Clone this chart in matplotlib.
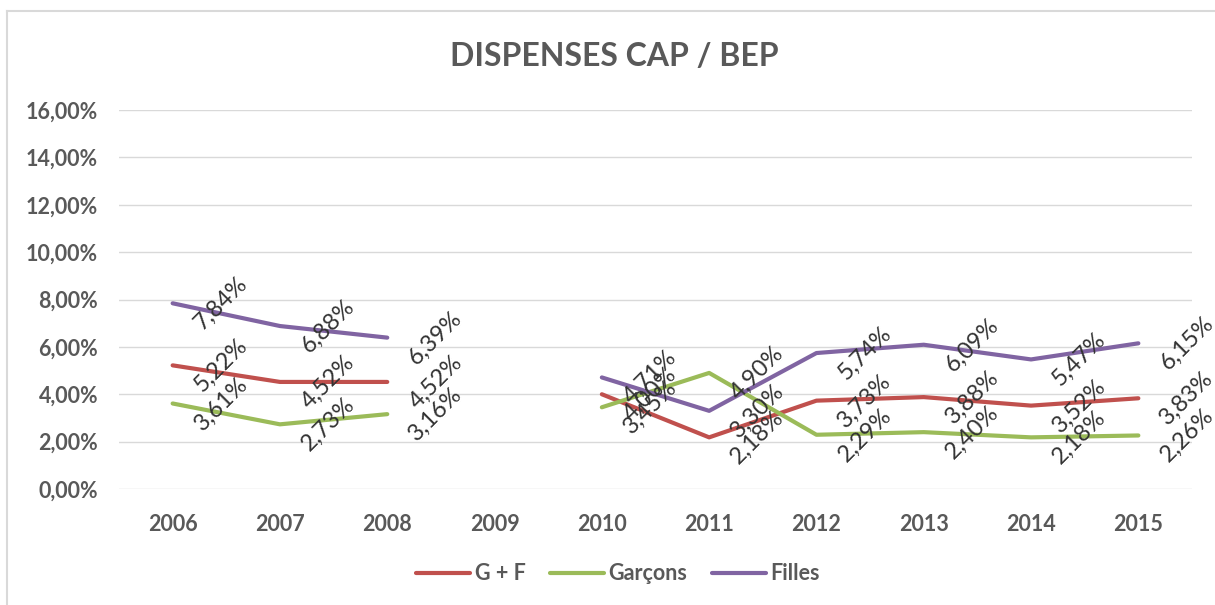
import numpy as np
import matplotlib
matplotlib.use("Agg")
import matplotlib.pyplot as plt
from matplotlib.lines import Line2D

years = ["2006", "2007", "2008", "2009", "2010", "2011", "2012", "2013", "2014", "2015"]
gf = [5.22, 4.52, 4.52, np.nan, 4.00, 2.18, 3.73, 3.88, 3.52, 3.83]
garcons = [3.61, 2.73, 3.16, np.nan, 3.45, 4.90, 2.29, 2.40, 2.18, 2.26]
filles = [7.84, 6.88, 6.39, np.nan, 4.71, 3.30, 5.74, 6.09, 5.47, 6.15]
yticks = [0, 2, 4, 6, 8, 10, 12, 14, 16]

series = [("G + F", gf, "#C0504D"), ("Garçons", garcons, "#9BBB59"), ("Filles", filles, "#8064A2")]

plt.rcParams['font.family'] = ['Lato', 'DejaVu Sans']
W, H = 1215, 605
fig = plt.figure(figsize=(W / 100, H / 100), dpi=100)
ax = fig.add_axes([119 / W, 1 - 489 / H, (1192 - 119) / W, (489 - 110) / H])

x = np.arange(len(years))
for name, vals, col in series:
    ax.plot(x, vals, color=col, lw=3, solid_capstyle='round', label=name)
for name, vals, col in series:
    for xi, v in zip(x, vals):
        if np.isnan(v):
            continue
        ax.text(xi + 0.45, v, f"{v:.2f}".replace('.', ',') + '%', rotation=45,
                ha='center', va='center', rotation_mode='anchor', fontsize=17,
                color='#333333', clip_on=False)

ax.set_xlim(-0.5, len(years) - 0.5)
ax.set_ylim(0, 16)
ax.set_yticks(yticks)
ax.set_yticklabels([f"{t:.2f}".replace('.', ',') + '%' for t in yticks])
ax.set_xticks(x)
ax.set_xticklabels(years)
ax.grid(axis='y', color='#D9D9D9', lw=1)
ax.set_axisbelow(True)
for s in ax.spines.values():
    s.set_visible(False)
ax.tick_params(length=0, labelsize=15.5, labelcolor='#595959')
ax.tick_params(axis='y', pad=15)
ax.tick_params(axis='x', pad=18)
for lab in ax.get_xticklabels() + ax.get_yticklabels():
    lab.set_fontweight('bold')

fig.text(614 / W, 1 - 57 / H, "DISPENSES CAP / BEP", ha='center', va='center',
         fontsize=23, fontweight='bold', color='#595959')

handles = [Line2D([0], [0], color=c, lw=3, solid_capstyle='round') for _, _, c in series]
leg = fig.legend(handles, [n for n, _, _ in series], loc='center', bbox_to_anchor=(618 / W, 1 - 574 / H),
                 ncol=3, frameon=False, handlelength=2.5, handletextpad=0.2, columnspacing=1.15,
                 prop={'size': 15.5, 'weight': 'bold'})
for t in leg.get_texts():
    t.set_color('#595959')

fig.add_artist(Line2D([7 / W, 1], [1 - 11 / H, 1 - 11 / H], color='#D9D9D9', lw=1.5, transform=fig.transFigure))
fig.add_artist(Line2D([7 / W, 7 / W], [0, 1 - 11 / H], color='#D9D9D9', lw=1.5, transform=fig.transFigure))

fig.savefig("out.png", dpi=100, facecolor='white')
